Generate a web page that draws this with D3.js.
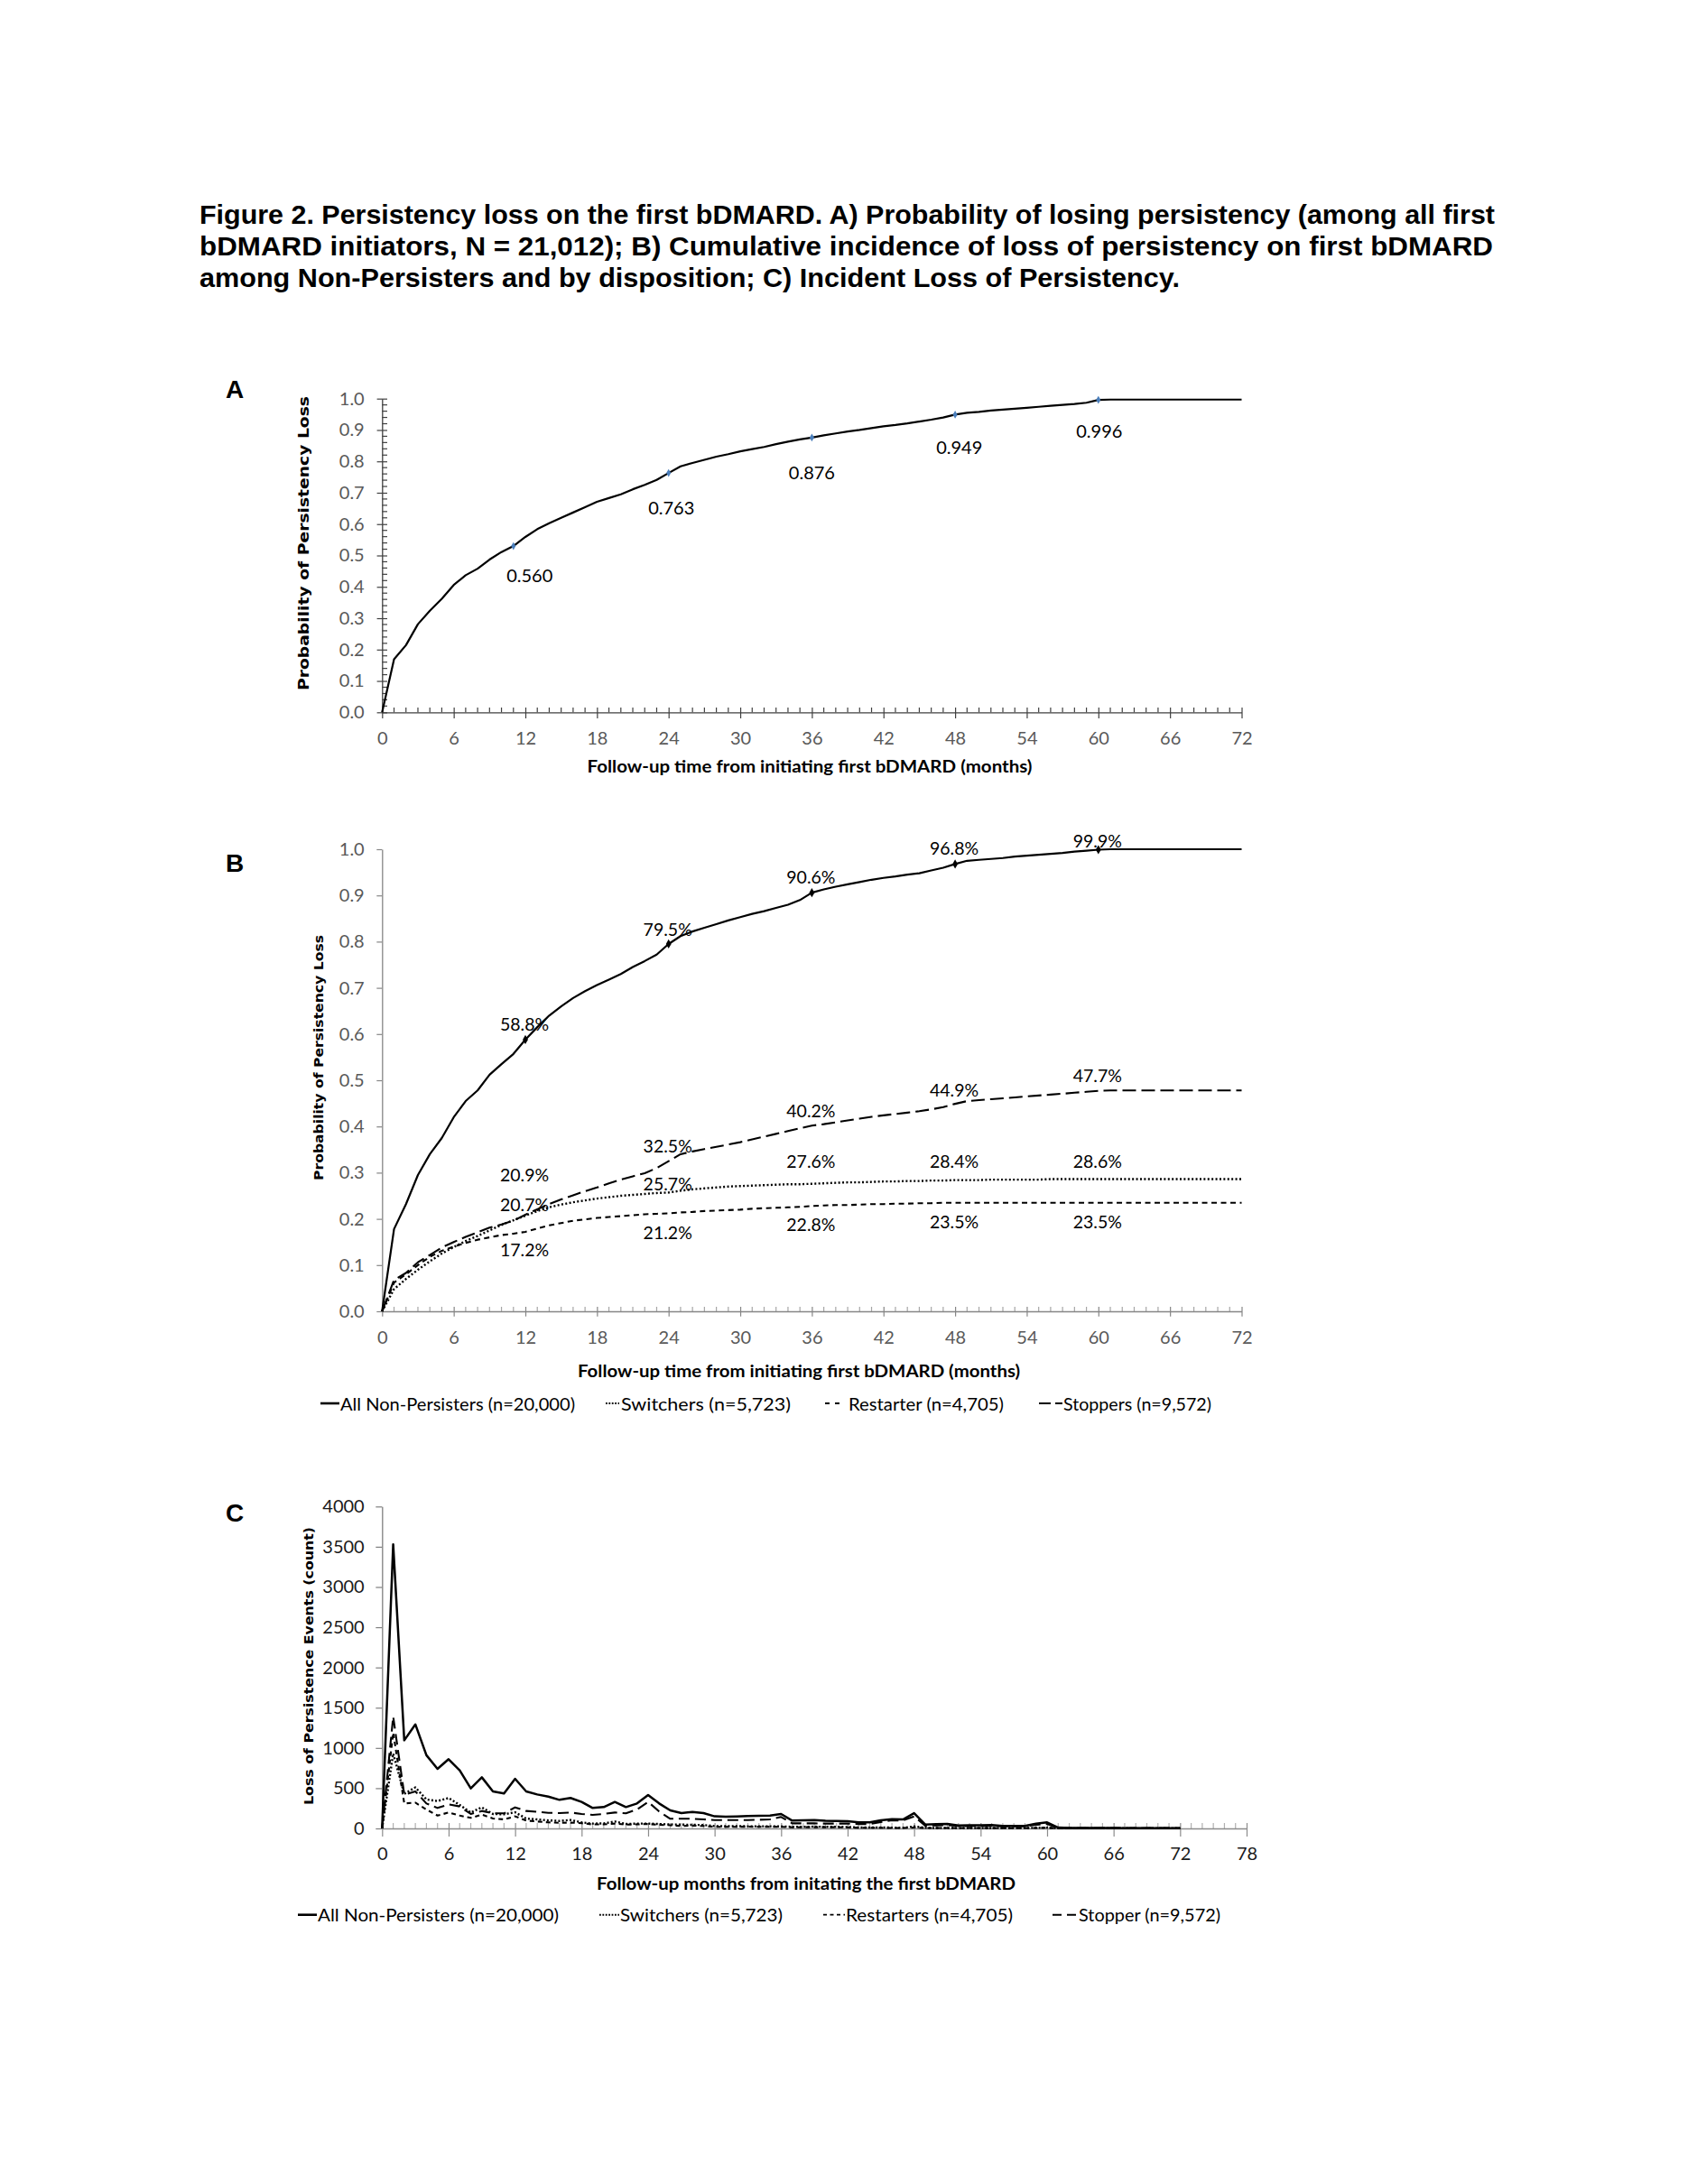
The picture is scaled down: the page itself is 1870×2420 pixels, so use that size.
<!DOCTYPE html>
<html><head><meta charset="utf-8">
<script src="https://cdn.jsdelivr.net/npm/d3@7"></script>
<style>body{margin:0;background:#fff}</style>
</head><body>
<svg id="c" width="1870" height="2420"></svg>
<script>
// ---------------- DATA ----------------
const titleLines = [
  "Figure 2. Persistency loss on the first bDMARD. A) Probability of losing persistency (among all first",
  "bDMARD initiators, N = 21,012); B) Cumulative incidence of loss of persistency on first bDMARD",
  "among Non-Persisters and by disposition; C) Incident Loss of Persistency."
];
const months = d3.range(0, 73);

// Panel A: probability of persistency loss, monthly 0..72
const probA = [0,0.169,0.214,0.281,0.324,0.362,0.406,0.437,0.458,0.487,0.511,0.530,0.559,0.584,0.603,0.620,0.637,0.654,0.671,0.683,0.695,0.711,0.725,0.741,0.763,0.784,0.795,0.805,0.815,0.823,0.832,0.839,0.846,0.855,0.863,0.870,0.876,0.883,0.889,0.895,0.900,0.906,0.912,0.916,0.921,0.927,0.933,0.940,0.949,0.955,0.958,0.962,0.965,0.968,0.971,0.974,0.977,0.980,0.983,0.987,0.996,0.997,0.997,0.997,0.997,0.997,0.997,0.997,0.997,0.997,0.997,0.997,0.997];
const markMonthsA = [11, 24, 36, 48, 60];
const labelsA = ["0.560", "0.763", "0.876", "0.949", "0.996"];

// Panel B: cumulative incidence, monthly 0..72
const allB = [0,0.178,0.232,0.295,0.340,0.375,0.420,0.455,0.478,0.512,0.535,0.557,0.588,0.615,0.640,0.660,0.678,0.693,0.706,0.718,0.730,0.745,0.758,0.772,0.795,0.812,0.822,0.830,0.838,0.846,0.853,0.860,0.866,0.873,0.880,0.890,0.906,0.913,0.919,0.924,0.929,0.934,0.938,0.941,0.945,0.948,0.954,0.960,0.968,0.975,0.977,0.979,0.981,0.984,0.986,0.988,0.990,0.992,0.995,0.997,0.999,1,1,1,1,1,1,1,1,1,1,1,1];
const switchB = [0,0.048,0.070,0.090,0.108,0.125,0.139,0.152,0.163,0.175,0.187,0.197,0.207,0.217,0.225,0.231,0.236,0.240,0.244,0.247,0.250,0.252,0.254,0.256,0.257,0.261,0.264,0.266,0.268,0.270,0.271,0.272,0.273,0.274,0.275,0.275,0.276,0.277,0.278,0.279,0.279,0.280,0.281,0.281,0.282,0.282,0.283,0.283,0.284,0.284,0.284,0.285,0.285,0.285,0.285,0.285,0.286,0.286,0.286,0.286,0.286,0.286,0.286,0.286,0.286,0.286,0.286,0.286,0.286,0.286,0.286,0.286,0.286];
const restartB = [0,0.062,0.080,0.100,0.118,0.131,0.140,0.148,0.155,0.160,0.165,0.168,0.172,0.179,0.186,0.191,0.196,0.199,0.202,0.204,0.206,0.208,0.210,0.211,0.212,0.214,0.215,0.217,0.218,0.219,0.220,0.222,0.223,0.224,0.225,0.226,0.228,0.229,0.230,0.230,0.231,0.232,0.232,0.233,0.233,0.234,0.234,0.235,0.235,0.235,0.235,0.235,0.235,0.235,0.235,0.235,0.235,0.235,0.235,0.235,0.235,0.235,0.235,0.235,0.235,0.235,0.235,0.235,0.235,0.235,0.235,0.235,0.235];
const stopB = [0,0.068,0.083,0.106,0.122,0.138,0.150,0.161,0.171,0.181,0.188,0.196,0.209,0.221,0.232,0.242,0.251,0.260,0.268,0.277,0.285,0.292,0.299,0.310,0.325,0.340,0.346,0.351,0.356,0.361,0.366,0.372,0.378,0.384,0.390,0.396,0.402,0.405,0.409,0.413,0.417,0.421,0.424,0.427,0.430,0.433,0.437,0.442,0.449,0.455,0.457,0.459,0.461,0.463,0.465,0.467,0.469,0.471,0.473,0.475,0.477,0.478,0.478,0.478,0.478,0.478,0.478,0.478,0.478,0.478,0.478,0.478,0.478];
const markMonthsB = [12, 24, 36, 48, 60];
const legendB = ["All Non-Persisters (n=20,000)", "Switchers (n=5,723)", "Restarter (n=4,705)", "Stoppers (n=9,572)"];

// Panel C: incident loss of persistency events (count), monthly 0..72
const allC = [0,3530,1095,1293,910,740,860,721,497,635,460,434,617,460,422,396,355,378,329,254,265,329,265,310,415,310,224,190,205,190,150,146,148,153,156,160,179,97,100,105,95,93,90,75,75,100,116,112,190,48,52,56,37,38,40,41,30,30,30,60,75,10,6,5,5,5,5,4,4,4,4,3,3];
const switchC = [0,930,430,510,360,340,378,292,198,262,180,175,200,123,112,100,93,105,75,60,62,86,56,60,60,55,50,48,45,42,30,28,28,27,27,27,25,20,20,22,20,20,18,12,12,12,10,8,25,8,6,6,6,6,6,6,5,5,5,8,10,2,1,1,1,1,1,1,1,1,1,1,1];
const restartC = [0,1190,310,320,235,160,198,160,131,172,123,112,150,97,86,75,70,72,65,50,50,60,48,50,55,45,40,30,35,30,20,20,20,22,21,21,20,14,15,15,15,15,12,8,8,8,6,5,12,5,5,5,5,5,5,5,4,4,4,6,8,2,1,1,1,1,1,1,1,1,1,1,1];
const stopC = [0,1390,420,460,310,254,299,273,180,217,187,187,262,217,206,194,191,198,180,168,180,198,187,235,330,210,120,120,120,112,104,104,104,104,108,112,142,63,63,63,60,60,60,55,55,80,100,100,150,35,38,40,30,30,32,33,25,25,25,45,55,6,4,4,4,4,4,4,4,4,4,4,4];
const legendC = ["All Non-Persisters (n=20,000)", "Switchers (n=5,723)", "Restarters (n=4,705)", "Stopper (n=9,572)"];

// tick values
const xTicks72 = [0,6,12,18,24,30,36,42,48,54,60,66,72];
const xTicks78 = [0,6,12,18,24,30,36,42,48,54,60,66,72,78];
const yTicksProb = [0,0.1,0.2,0.3,0.4,0.5,0.6,0.7,0.8,0.9,1.0];
const yTicksCount = [0,500,1000,1500,2000,2500,3000,3500,4000];

// ---------------- DRAWING ----------------
const svg = d3.select("#c");
const FT = "Lato, 'Open Sans', sans-serif";
const ARIAL = "'Liberation Sans', Arial, sans-serif";
const VERD = "'DejaVu Sans', Verdana, sans-serif";

function fit(sel, w) { return sel.attr("textLength", w).attr("lengthAdjust", "spacingAndGlyphs"); }

// Title
titleLines.forEach((t, i) => {
  const widths = [1435, 1433, 1086];
  fit(svg.append("text").attr("x", 221).attr("y", 248 + i * 35)
    .attr("font-family", ARIAL).attr("font-weight", "bold").attr("font-size", 29)
    .attr("fill", "#000").text(t), widths[i]);
});

// panel letters
[["A", 431], ["B", 956], ["C", 1676]].forEach(([t, y]) => {
  svg.append("text").attr("x", 260).attr("y", y).attr("text-anchor", "middle")
    .attr("dominant-baseline", "central").attr("font-family", ARIAL)
    .attr("font-weight", "bold").attr("font-size", 28).text(t);
});

function drawXAxis(x, y0, majors, minors, o) {
  const g = svg.append("g").attr("transform", `translate(0,${y0})`);
  g.selectAll("line.mn").data(minors).join("line").attr("class", "mn")
    .attr("x1", d => x(d)).attr("x2", d => x(d)).attr("y1", -o.minUp).attr("y2", 0)
    .attr("stroke", o.minColor).attr("stroke-width", 1.2);
  const ax = d3.axisBottom(x).tickValues(majors).tickSize(o.majDown).tickSizeOuter(0)
    .tickPadding(o.pad).tickFormat(d3.format("d"));
  g.call(ax);
  g.select(".domain").attr("stroke", o.color).attr("stroke-width", 1.3);
  g.selectAll(".tick line").attr("stroke", o.color).attr("stroke-width", 1.2).attr("y1", -o.majUp);
  g.selectAll(".tick text").attr("font-family", FT).attr("font-size", o.fs).attr("fill", o.textColor);
  return g;
}
function drawYAxis(y, x0, majors, minors, o) {
  const g = svg.append("g").attr("transform", `translate(${x0},0)`);
  g.selectAll("line.mn").data(minors).join("line").attr("class", "mn")
    .attr("y1", d => y(d)).attr("y2", d => y(d)).attr("x1", 0).attr("x2", o.minIn)
    .attr("stroke", o.minColor).attr("stroke-width", 1.2);
  const ax = d3.axisLeft(y).tickValues(majors).tickSize(o.majOut).tickSizeOuter(0)
    .tickPadding(19.6 - o.majOut).tickFormat(o.fmt);
  g.call(ax);
  g.select(".domain").attr("stroke", o.color).attr("stroke-width", 1.3);
  g.selectAll(".tick line").attr("stroke", o.color).attr("stroke-width", 1.2).attr("x2", -o.majOut).attr("x1", o.majIn || 0);
  g.selectAll(".tick text").attr("font-family", FT).attr("font-size", o.fs).attr("fill", o.textColor);
  return g;
}
function axisTitleX(t, cx, cy, w) {
  fit(svg.append("text").attr("x", cx).attr("y", cy).attr("text-anchor", "middle")
    .attr("dominant-baseline", "central").attr("font-family", FT).attr("font-weight", "bold")
    .attr("font-size", 19.5).attr("fill", "#000").text(t), w);
}
function axisTitleY(t, cx, cy, w, fs) {
  fit(svg.append("text").attr("transform", `translate(${cx},${cy}) rotate(-90)`)
    .attr("text-anchor", "middle").attr("dominant-baseline", "central")
    .attr("font-family", VERD).attr("font-weight", "bold").attr("font-size", fs)
    .attr("fill", "#000").text(t), w);
}
const diamond = d3.symbol().type(d3.symbolDiamond);
const TICKFS = 20;

// ---------- Panel A ----------
const xA = d3.scaleLinear().domain([0, 72]).range([423.3, 1375.5]);
const yA = d3.scaleLinear().domain([0, 1]).range([789.3, 441.7]);
const minorMonths72 = d3.range(0, 73).filter(d => d % 6 !== 0);
drawXAxis(xA, 789.3, xTicks72, minorMonths72,
  {minUp: 5.3, majUp: 5.3, majDown: 6.7, pad: 15, color: "#404040", minColor: "#404040", fs: TICKFS, textColor: "#595959"});
drawYAxis(yA, 423.3, yTicksProb, d3.range(1, 50).filter(d => d % 5 !== 0).map(d => d / 50),
  {minIn: 5.7, majOut: 5.7, majIn: 5.7, color: "#404040", minColor: "#404040", fs: TICKFS, textColor: "#595959", fmt: d3.format(".1f")});

const lineA = d3.line().x((d, i) => xA(months[i])).y(d => yA(d));
svg.append("path").attr("d", lineA(probA)).attr("fill", "none").attr("stroke", "#000")
  .attr("stroke-width", 2.2).attr("stroke-linejoin", "round");
const offA = [[18, 32], [3, 38], [0, 38.5], [4.6, 36], [1, 33.6]];
markMonthsA.forEach((m, i) => {
  svg.append("path").attr("d", diamond.size(22)())
    .attr("transform", `translate(${xA(m)},${yA(probA[m])})`).attr("fill", "#4a7ebb");
  svg.append("text").attr("x", xA(m) + offA[i][0]).attr("y", yA(probA[m]) + offA[i][1])
    .attr("text-anchor", "middle").attr("dominant-baseline", "central")
    .attr("font-family", FT).attr("font-size", 20).attr("fill", "#000").text(labelsA[i]);
});
axisTitleX("Follow-up time from initiating first bDMARD (months)", 897, 848, 493);
axisTitleY("Probability of Persistency Loss", 336.5, 602, 326, 16.5);

// ---------- Panel B ----------
const xB = d3.scaleLinear().domain([0, 72]).range([423.3, 1375.5]);
const yB = d3.scaleLinear().domain([0, 1]).range([1453, 941]);
drawXAxis(xB, 1453, xTicks72, minorMonths72,
  {minUp: 5, majUp: 5, majDown: 5.7, pad: 16.5, color: "#868686", minColor: "#a6a6a6", fs: TICKFS, textColor: "#595959"});
drawYAxis(yB, 423.3, yTicksProb, [],
  {minIn: 0, majOut: 6, color: "#868686", minColor: "#868686", fs: TICKFS, textColor: "#595959", fmt: d3.format(".1f")});

const lineB = d3.line().x((d, i) => xB(months[i])).y(d => yB(d));
const seriesB = [
  {v: allB, dash: null, w: 2.2},
  {v: switchB, dash: "2,2.4", w: 2.4},
  {v: restartB, dash: "6,4.5", w: 2.1},
  {v: stopB, dash: "15,6", w: 2.1}
];
seriesB.forEach(s => {
  svg.append("path").attr("d", lineB(s.v)).attr("fill", "none").attr("stroke", "#000")
    .attr("stroke-width", s.w).attr("stroke-dasharray", s.dash).attr("stroke-linejoin", "round");
});
markMonthsB.forEach(m => {
  svg.append("path").attr("d", diamond.size(30)())
    .attr("transform", `translate(${xB(m)},${yB(allB[m])})`).attr("fill", "#000");
});
const pct = d3.format(".1%");
const dyB = [
  [-17, -16.5, -17.7, -17.7, -10],  // all
  [-13, -10, -25, -21, -20],        // switchers
  [20, 21, 20, 21, 21],             // restarter
  [-44, -17, -16.5, -16, -17.6]     // stoppers
];
seriesB.forEach((s, si) => {
  markMonthsB.forEach((m, i) => {
    svg.append("text").attr("x", xB(m) - 1).attr("y", yB(s.v[m]) + dyB[si][i])
      .attr("text-anchor", "middle").attr("dominant-baseline", "central")
      .attr("font-family", FT).attr("font-size", 19.5).attr("fill", "#000").text(pct(s.v[m]));
  });
});
axisTitleX("Follow-up time from initiating first bDMARD (months)", 885, 1518, 490);
axisTitleY("Probability of Persistency Loss", 353, 1172, 272, 13.5);

// Legend B
const legBy = 1555;
const legBItems = [
  {sx: 355, ex: 376, dash: null, w: 2.6, tx: 377, tw: 260},
  {sx: 671, ex: 686, dash: "1.8,1.6", w: 2, tx: 688, tw: 188},
  {sx: 914, ex: 931, dash: "5,6", w: 2, tx: 940, tw: 172},
  {sx: 1151, ex: 1177, dash: "13,5", w: 2.2, tx: 1178, tw: 164}
];
legBItems.forEach((it, i) => {
  svg.append("line").attr("x1", it.sx).attr("x2", it.ex).attr("y1", legBy).attr("y2", legBy)
    .attr("stroke", "#000").attr("stroke-width", it.w).attr("stroke-dasharray", it.dash);
  fit(svg.append("text").attr("x", it.tx).attr("y", legBy).attr("dominant-baseline", "central")
    .attr("font-family", FT).attr("font-size", 19.5).attr("fill", "#000").text(legendB[i]), it.tw);
});

// ---------- Panel C ----------
const xC = d3.scaleLinear().domain([0, 78]).range([423.3, 1381]);
const yC = d3.scaleLinear().domain([0, 4000]).range([2026, 1669.3]);
drawXAxis(xC, 2026, xTicks78, d3.range(0, 79).filter(d => d % 6 !== 0),
  {minUp: 6, majUp: 6, majDown: 9, pad: 12, color: "#8c8c8c", minColor: "#b0b0b0", fs: TICKFS, textColor: "#1a1a1a"});
drawYAxis(yC, 423.3, yTicksCount, [],
  {minIn: 0, majOut: 7, color: "#7f7f7f", minColor: "#7f7f7f", fs: TICKFS, textColor: "#1a1a1a", fmt: d3.format("d")});

const lineC = d3.line().x((d, i) => xC(months[i])).y(d => yC(d));
const seriesC = [
  {v: stopC, dash: "12,6", w: 2.1},
  {v: restartC, dash: "5,4", w: 2.1},
  {v: switchC, dash: "2,2.2", w: 2.4},
  {v: allC, dash: null, w: 2.5}
];
seriesC.forEach(s => {
  svg.append("path").attr("d", lineC(s.v)).attr("fill", "none").attr("stroke", "#000")
    .attr("stroke-width", s.w).attr("stroke-dasharray", s.dash).attr("stroke-linejoin", "round");
});
axisTitleX("Follow-up months from initating the first bDMARD", 893, 2086, 464);
axisTitleY("Loss of Persistence Events (count)", 342, 1846, 308, 14.5);

// Legend C
const legCy = 2121.7;
const legCItems = [
  {sx: 330, ex: 351, dash: null, w: 2.6, tx: 352, tw: 267},
  {sx: 664, ex: 686, dash: "1.8,1.6", w: 2, tx: 687, tw: 180},
  {sx: 912, ex: 936, dash: "4,3.5", w: 1.8, tx: 937, tw: 185},
  {sx: 1166, ex: 1194, dash: "10,6", w: 2, tx: 1195, tw: 157}
];
legCItems.forEach((it, i) => {
  svg.append("line").attr("x1", it.sx).attr("x2", it.ex).attr("y1", legCy).attr("y2", legCy)
    .attr("stroke", "#000").attr("stroke-width", it.w).attr("stroke-dasharray", it.dash);
  fit(svg.append("text").attr("x", it.tx).attr("y", legCy).attr("dominant-baseline", "central")
    .attr("font-family", FT).attr("font-size", 19.5).attr("fill", "#000").text(legendC[i]), it.tw);
});
</script>
</body></html>
